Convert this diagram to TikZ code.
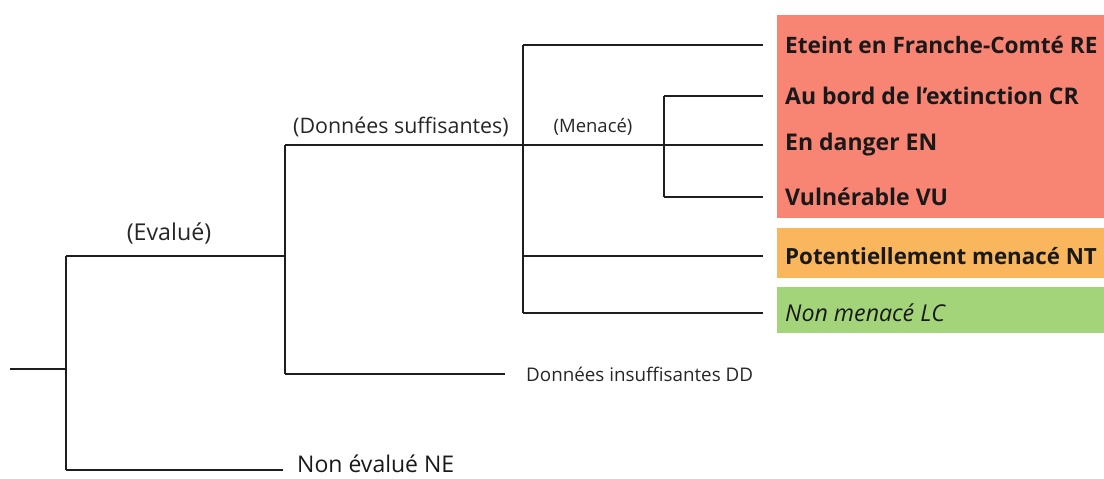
\documentclass[tikz,border=0pt]{standalone}
\usepackage{fontspec}
\setmainfont{Open Sans}
\definecolor{redbox}{RGB}{248,132,116}
\definecolor{orangebox}{RGB}{250,182,92}
\definecolor{greenbox}{RGB}{163,212,122}
\definecolor{linec}{RGB}{30,30,30}
\newcommand{\fs}[1]{\fontsize{#1}{#1}\selectfont}
\begin{document}
\begin{tikzpicture}[x=1pt,y=-1pt,
  branch/.style={draw=linec,line width=2pt},
  box/.style={draw=none,inner sep=0pt,anchor=north west},
  leaf/.style={anchor=west,inner sep=0pt,inner xsep=22pt,font=\fs{22.6}\bfseries,text=black!90},
  lbl/.style={inner sep=0pt,text=black!85},
]
\useasboundingbox (0,0) rectangle (1104,479);
% coloured boxes
\node[box,fill=redbox,minimum width=327pt,minimum height=203pt] (rbox) at (777,15) {};
\node[box,fill=orangebox,minimum width=327pt,minimum height=50pt] (obox) at (777,228) {};
\node[box,fill=greenbox,minimum width=327pt,minimum height=46pt] (gbox) at (777,287) {};
% junctions
\coordinate (r0) at (10,369);
\coordinate (r) at (66,369);
\coordinate (rt) at (66,256);
\coordinate (rb) at (66,470);
\coordinate (d) at (285,256);
\coordinate (dt) at (285,145);
\coordinate (db) at (285,374);
\coordinate (s) at (523,145);
\coordinate (st) at (523,45);
\coordinate (snt) at (523,256);
\coordinate (sb) at (523,313);
\coordinate (m) at (664,145);
\coordinate (mt) at (664,96);
\coordinate (mb) at (664,197);
% leaves
\node[leaf] (re) at (763,45) {Eteint en Franche-Comté RE};
\node[leaf,font=\fs{23}\bfseries] (cr) at (763,96) {Au bord de l'extinction CR};
\node[leaf,font=\fs{23}\bfseries] (en) at (763,145) {En danger EN};
\node[leaf,font=\fs{23}\bfseries] (vu) at (763,197) {Vulnérable VU};
\node[leaf,font=\fs{22.3}\bfseries] (nt) at (763,256) {Potentiellement menacé NT};
\node[leaf,font=\fs{23.2}\itshape] (lc) at (763,313) {Non menacé LC};
\node[anchor=west,inner sep=0pt,inner xsep=21pt,font=\fs{18.8},text=black!85] (dd) at (505,374) {Données insuffisantes DD};
\node[anchor=west,inner sep=0pt,inner xsep=14pt,text height=4pt,text depth=0pt,font=\fs{23},text=black!90] (ne) at (283,470) {Non évalué NE};
% branch labels
\node[lbl,font=\fs{23.2}] (levalue) at (169,233) {(Evalué)};
\node[lbl,font=\fs{21.4}] (lsuff) at (401,127) {(Données suffisantes)};
\node[lbl,font=\fs{18.5}] (lmen) at (593,127) {(Menacé)};
% tree
\draw[branch] (r0) -- (r);
\draw[branch] (rt) -- (rb);
\draw[branch] (rt) -- (d);
\draw[branch] (rb) -- (ne.west);
\draw[branch] (dt) -- (db);
\draw[branch] (dt) -- (s);
\draw[branch] (db) -- (dd.west);
\draw[branch] (st) -- (sb);
\draw[branch] (st) -- (re.west);
\draw[branch] (s) -- (m);
\draw[branch] (mt) -- (mb);
\draw[branch] (mt) -- (cr.west);
\draw[branch] (m) -- (en.west);
\draw[branch] (mb) -- (vu.west);
\draw[branch] (snt) -- (nt.west);
\draw[branch] (sb) -- (lc.west);
\end{tikzpicture}
\end{document}
